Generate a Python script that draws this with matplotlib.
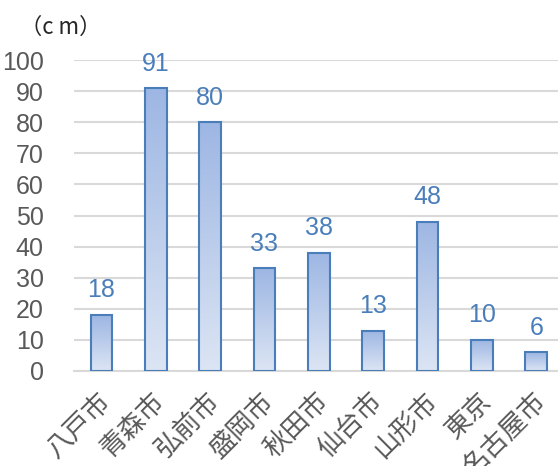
#!/usr/bin/env python
# -*- coding: utf-8 -*-

import numpy as np
import matplotlib
matplotlib.use('Agg')
import matplotlib.pyplot as plt
import matplotlib.transforms as mtransforms
from matplotlib.colors import LinearSegmentedColormap

cities = ['八戸市', '青森市', '弘前市', '盛岡市', '秋田市', '仙台市', '山形市', '東京', '名古屋市']
snow_cm = [18, 91, 80, 33, 38, 13, 48, 10, 6]
y_ticks = [0, 10, 20, 30, 40, 50, 60, 70, 80, 90, 100]

num_font = ['Liberation Sans Narrow', 'Liberation Sans', 'DejaVu Sans']
jp_font = ['Noto Sans CJK JP', 'DejaVu Sans']

fig = plt.figure(figsize=(5.58, 4.66), dpi=100)
ax = fig.add_axes([0.133, 0.204, 0.867, 0.667])

x = np.arange(len(cities))
bars = ax.bar(x, snow_cm, width=0.4, color='none', edgecolor='#4a7ebb',
              linewidth=1.5, zorder=3)

# gradient fill, clipped to each bar
cmap = LinearSegmentedColormap.from_list('grad', ['#dce5f4', '#9db6e3'])
grad = np.linspace(0, 1, 256).reshape(-1, 1)
for b in bars:
    x0, y0 = b.get_x(), b.get_y()
    im = ax.imshow(grad, cmap=cmap, origin='lower', aspect='auto',
                   extent=[x0, x0 + b.get_width(), y0, y0 + b.get_height()],
                   zorder=2)
    im.set_clip_path(b)

for xi, v in zip(x, snow_cm):
    ax.annotate(str(v), (xi, v), xytext=(0, 9), textcoords='offset points',
                ha='center', va='bottom', color='#4a7ebb', fontsize=18,
                family=num_font)

ax.set_xlim(-0.5, 8.4)
ax.set_ylim(0, 100)
ax.set_yticks(y_ticks)
ax.set_yticklabels([str(t) for t in y_ticks], family=num_font, fontsize=18,
                   color='#595959')
ax.set_xticks(x)
ax.set_xticklabels(cities, family=jp_font, fontsize=19, color='#595959',
                   rotation=45, ha='right', va='top', rotation_mode='anchor')
ax.tick_params(axis='both', length=0)
ax.tick_params(axis='y', pad=22)
ax.tick_params(axis='x', pad=12)

# nudge the rotated city names a little to the left
shift = mtransforms.ScaledTranslation(-3 / 72, 0, fig.dpi_scale_trans)
for lbl in ax.get_xticklabels():
    lbl.set_transform(lbl.get_transform() + shift)

ax.grid(axis='y', color='#d9d9d9', linewidth=1.5, zorder=0)
ax.set_axisbelow(True)
for s in ['top', 'right', 'left']:
    ax.spines[s].set_visible(False)
ax.spines['bottom'].set_color('#d9d9d9')
ax.spines['bottom'].set_linewidth(1.5)

fig.text(0.036, 0.942, '（c m）', family=jp_font, fontsize=16, color='#262626',
         va='center', ha='left')

fig.savefig('out.png', dpi=100)
